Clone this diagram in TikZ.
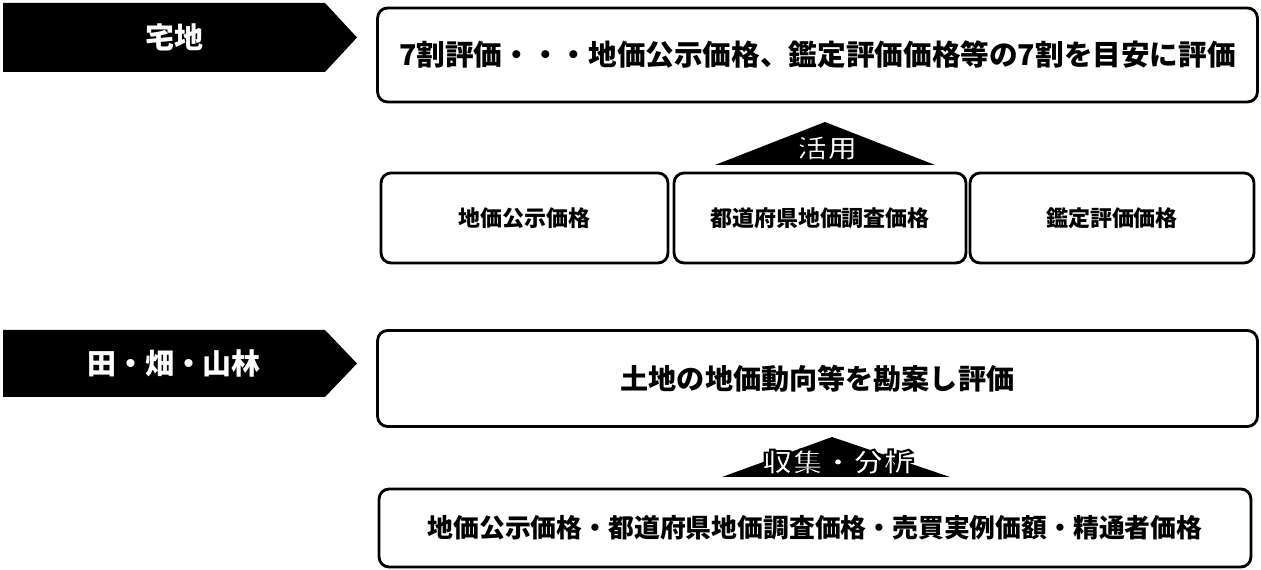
\documentclass[tikz,border=0pt]{standalone}
\usepackage{fontspec}
\setmainfont{Noto Sans CJK JP}
% white letters with a black rim
\newcommand{\rimword}[1]{\special{pdf:literal direct 2 Tr 1.1 w 0 G}#1\special{pdf:literal direct 0 Tr}}

\begin{document}
\begin{tikzpicture}[
    x=0.02cm, y=-0.02cm,
    tag/.style={fill=black},
    tagword/.style={text=white, inner sep=0pt, font=\bfseries\fontsize{16.5}{18}\selectfont},
    bigbox/.style={rectangle, rounded corners=0.2cm, draw=black, line width=1.6pt,
                   minimum width=17.6cm, text centered},
    pricebox/.style={rectangle, rounded corners=0.2cm, draw=black, line width=1.6pt,
                     minimum height=1.8cm, text centered,
                     font=\bfseries\fontsize{12.5}{14}\selectfont},
    roof/.style={fill=black},
    roofword/.style={text=white, inner sep=0pt, font=\bfseries\fontsize{15}{16}\selectfont}
]
\useasboundingbox (0,0) rectangle (1261,570);

% Residential land
\fill[tag] (3, 3) -- (325, 3) -- (357, 37.5) -- (325, 72) -- (3, 72) -- cycle;
\node[tagword] (takuchi) at (174, 37.5) {宅地};
\node[bigbox, minimum height=1.88cm, font=\bfseries\fontsize{16.3}{18}\selectfont]
    (nawari) at (817.5, 55) {7割評価・・・地価公示価格、鑑定評価価格等の7割を目安に評価};

% Roof: katsuyou
\fill[roof] (715, 165) -- (825, 122) -- (935, 165) -- cycle;
\node[roofword] (katsuyou) at (827, 148) {\rimword{\scalebox{1.15}[1]{活用}}};

\node[pricebox, minimum width=5.74cm] (koji) at (524.5, 218) {地価公示価格};
\node[pricebox, minimum width=5.84cm] (chousa) at (820, 218) {都道府県地価調査価格};
\node[pricebox, minimum width=5.68cm] (kantei) at (1112, 218) {鑑定評価価格};

% Farmland and forest
\fill[tag] (3, 330) -- (325, 330) -- (357, 363.5) -- (325, 397) -- (3, 397) -- cycle;
\node[tagword] (denpata) at (174, 363.5) {田・畑・山林};
\node[bigbox, minimum height=1.92cm, font=\bfseries\fontsize{16}{18}\selectfont]
    (doukou) at (817.5, 378.5) {土地の地価動向等を勘案し評価};

% Roof: shuushuu bunseki
\fill[roof] (722, 477) -- (832, 437) -- (950, 477) -- cycle;
\node[roofword] (bunseki) at (838, 462) {\rimword{\scalebox{1.15}[1]{収集・分析}}};

\node[bigbox, minimum width=17.44cm, minimum height=1.56cm, font=\bfseries\fontsize{14.7}{17}\selectfont]
    (shiryou) at (815, 528) {地価公示価格・都道府県地価調査価格・売買実例価額・精通者価格};

\end{tikzpicture}
\end{document}
